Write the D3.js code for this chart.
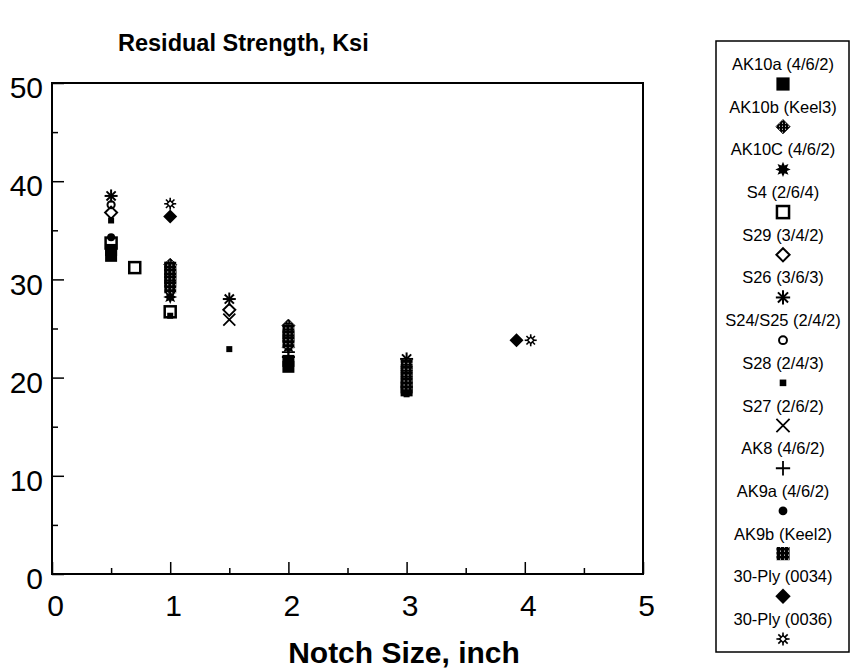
<!DOCTYPE html>
<html><head><meta charset="utf-8">
<script src="https://cdn.jsdelivr.net/npm/d3@7"></script>
<style>body{margin:0;background:#fff} svg{display:block;font-family:"Liberation Sans",Arial,Helvetica,sans-serif}</style>
</head><body>
<svg id="chart" width="859" height="672"></svg>
<script>
// ---- data ----
const xTicks = [0, 1, 2, 3, 4, 5];
const xMinorTicks = [0.5, 1.5, 2.5, 3.5, 4.5];
const yTicks = [0, 10, 20, 30, 40, 50];
const yMinorTicks = [5, 15, 25, 35, 45];

const seriesNames = ["AK10a (4/6/2)", "AK10b (Keel3)", "AK10C (4/6/2)", "S4 (2/6/4)", "S29 (3/4/2)",
  "S26 (3/6/3)", "S24/S25 (2/4/2)", "S28 (2/4/3)", "S27 (2/6/2)", "AK8 (4/6/2)", "AK9a (4/6/2)",
  "AK9b (Keel2)", "30-Ply (0034)", "30-Ply (0036)"];
const seriesSymbols = ["fsquare", "hdiamond", "star", "osquare", "odiamond", "asterisk", "ocircle",
  "ssquare", "xmark", "plus", "fcircle", "dsquare", "fdiamond", "snow"];

const ak10a  = [[0.5, 33.0], [0.5, 32.4], [1, 30.9], [1, 30.2], [2, 21.7], [2, 21.1], [3, 19.0], [3, 18.7]];
const ak10b  = [[1, 31.5], [2, 25.3]];
const ak10c  = [[1, 28.2], [2, 23.1]];
const s4     = [[0.5, 33.7], [0.7, 31.2], [1, 26.7]];
const s29    = [[0.5, 36.8], [1.5, 26.9]];
const s26    = [[0.5, 38.5], [1.5, 28.0], [3, 21.9]];
const s2425  = [[0.5, 37.6]];
const s28    = [[0.5, 36.0], [1, 26.3], [1.5, 22.9], [3, 18.3]];
const s27    = [[1.5, 25.9]];
const ak8    = [[2, 22.6], [2, 22.1]];
const ak9a   = [[0.5, 34.3]];
const ak9b   = [[1, 31.2], [1, 30.5], [1, 29.8], [1, 29.2], [2, 24.8], [2, 24.2], [2, 23.6], [3, 21.2], [3, 20.6], [3, 20.0], [3, 19.4]];
const ply34  = [[1, 36.4], [3.93, 23.8]];
const ply36  = [[1, 37.7], [4.05, 23.8]];

const seriesData = [ak10a, ak10b, ak10c, s4, s29, s26, s2425, s28, s27, ak8, ak9a, ak9b, ply34, ply36];

// ---- setup ----
const svg = d3.select("#chart");
const defs = svg.append("defs");
const dots = defs.append("pattern").attr("id", "dots").attr("patternUnits", "userSpaceOnUse").attr("width", 4).attr("height", 4);
dots.append("rect").attr("width", 4).attr("height", 4).attr("fill", "#000");
dots.append("rect").attr("x", 1).attr("y", 1).attr("width", 1).attr("height", 1).attr("fill", "#fff");
const chk = defs.append("pattern").attr("id", "chk").attr("patternUnits", "userSpaceOnUse").attr("width", 3).attr("height", 3);
chk.append("rect").attr("width", 3).attr("height", 3).attr("fill", "#000");
chk.append("rect").attr("x", 2).attr("y", 2).attr("width", 1).attr("height", 1).attr("fill", "#fff");

const x = d3.scaleLinear().domain([0, 5]).range([52, 643]);
const y = d3.scaleLinear().domain([0, 50]).range([574, 83]);

// title
svg.append("text").attr("x", 118).attr("y", 51).attr("font-size", 23.5).attr("font-weight", "bold").text("Residual Strength, Ksi");

// axes
const gx = svg.append("g").attr("transform", "translate(0,574)")
  .call(d3.axisBottom(x).tickValues(xTicks).tickFormat(d3.format("d")).tickSizeInner(-12).tickSizeOuter(0).tickPadding(21));
const gxm = svg.append("g").attr("transform", "translate(0,574)")
  .call(d3.axisBottom(x).tickValues(xMinorTicks).tickFormat("").tickSizeInner(-6).tickSizeOuter(0));
const gy = svg.append("g").attr("transform", "translate(52,0)")
  .call(d3.axisLeft(y).tickValues(yTicks).tickFormat(d3.format("d")).tickSizeInner(-12).tickSizeOuter(0).tickPadding(9));
const gym = svg.append("g").attr("transform", "translate(52,0)")
  .call(d3.axisLeft(y).tickValues(yMinorTicks).tickFormat("").tickSizeInner(-6).tickSizeOuter(0));
[gx, gxm, gy, gym].forEach(g => {
  g.select(".domain").remove();
  g.selectAll("line").attr("stroke", "#000").attr("stroke-width", 1.5);
  g.selectAll("text").attr("font-size", 30).attr("fill", "#000").attr("font-family", "Liberation Sans, Arial, sans-serif");
});
gx.selectAll("text").attr("dx", 3);
gy.selectAll("text").attr("dy", "0.49em");

svg.append("rect").attr("x", 52).attr("y", 83).attr("width", 591).attr("height", 491)
  .attr("fill", "none").attr("stroke", "#000").attr("stroke-width", 2);

svg.append("text").attr("x", 404).attr("y", 663).attr("text-anchor", "middle")
  .attr("font-size", 30).attr("font-weight", "bold").text("Notch Size, inch");

// ---- symbols ----
function drawSym(g, type, s) {
  const k = s;
  switch (type) {
    case "fsquare":
      g.append("rect").attr("x", -6 * k).attr("y", -6 * k).attr("width", 12 * k).attr("height", 12 * k).attr("fill", "#000");
      break;
    case "hdiamond": {
      const r = 6.5 * k;
      g.append("path").attr("d", `M0,${-r}L${r},0L0,${r}L${-r},0Z`).attr("fill", "url(#chk)").attr("stroke", "#000").attr("stroke-width", 0.8);
      break;
    }
    case "star": {
      const pts = [];
      for (let i = 0; i < 16; i++) {
        const a = Math.PI * i / 8;
        const r = (i % 2 === 0 ? 7 : 3.8) * k;
        pts.push([r * Math.sin(a), -r * Math.cos(a)]);
      }
      g.append("path").attr("d", "M" + pts.map(p => p.join(",")).join("L") + "Z").attr("fill", "#000");
      break;
    }
    case "osquare":
      g.append("rect").attr("x", -5.5 * k).attr("y", -5.5 * k).attr("width", 11 * k).attr("height", 11 * k)
        .attr("fill", "none").attr("stroke", "#000").attr("stroke-width", 2.5);
      break;
    case "odiamond": {
      const r = 6 * k;
      g.append("path").attr("d", `M0,${-r}L${r},0L0,${r}L${-r},0Z`).attr("fill", "none").attr("stroke", "#000").attr("stroke-width", 2);
      break;
    }
    case "asterisk": {
      const r = 6.5 * k;
      [0, 45, 90, 135].forEach(a => {
        const c = Math.cos(a * Math.PI / 180) * r, sn = Math.sin(a * Math.PI / 180) * r;
        g.append("line").attr("x1", -c).attr("y1", -sn).attr("x2", c).attr("y2", sn).attr("stroke", "#000").attr("stroke-width", 2);
      });
      break;
    }
    case "ocircle":
      g.append("circle").attr("r", 3.6 * k).attr("fill", "none").attr("stroke", "#000").attr("stroke-width", 2);
      break;
    case "ssquare":
      g.append("rect").attr("x", -3 * k).attr("y", -3 * k).attr("width", 6 * k).attr("height", 6 * k).attr("fill", "#000");
      break;
    case "xmark": {
      const r = 6 * k;
      g.append("path").attr("d", `M${-r},${-r}L${r},${r}M${r},${-r}L${-r},${r}`).attr("stroke", "#000").attr("stroke-width", 1.8);
      break;
    }
    case "plus": {
      const r = 6.5 * k;
      g.append("path").attr("d", `M${-r},0L${r},0M0,${-r}L0,${r}`).attr("stroke", "#000").attr("stroke-width", 1.8);
      break;
    }
    case "fcircle":
      g.append("circle").attr("r", 4 * k).attr("fill", "#000");
      break;
    case "dsquare":
      g.append("rect").attr("x", -6 * k).attr("y", -6 * k).attr("width", 12 * k).attr("height", 12 * k).attr("fill", "url(#dots)");
      break;
    case "fdiamond": {
      const r = 7 * k;
      g.append("path").attr("d", `M0,${-r}L${r},0L0,${r}L${-r},0Z`).attr("fill", "#000");
      break;
    }
    case "snow": {
      const r = 6 * k;
      [0, 45, 90, 135].forEach(a => {
        const c = Math.cos(a * Math.PI / 180) * r, sn = Math.sin(a * Math.PI / 180) * r;
        g.append("line").attr("x1", -c).attr("y1", -sn).attr("x2", c).attr("y2", sn).attr("stroke", "#000").attr("stroke-width", 1.6);
      });
      const d = 3.2 * k;
      g.append("path").attr("d", `M0,${-d}L${d},0L0,${d}L${-d},0Z`).attr("fill", "#fff").attr("stroke", "#000").attr("stroke-width", 1.5);
      break;
    }
  }
}

// ---- points ----
const plot = svg.append("g");
seriesData.forEach((pts, i) => {
  plot.selectAll(null).data(pts).enter().append("g")
    .attr("transform", d => `translate(${x(d[0])},${y(d[1])})`)
    .each(function () { drawSym(d3.select(this), seriesSymbols[i], 1); });
});

// ---- legend ----
svg.append("rect").attr("x", 716).attr("y", 41).attr("width", 133).attr("height", 611)
  .attr("fill", "none").attr("stroke", "#000").attr("stroke-width", 1.5);
const legY = d3.scaleLinear().domain([0, seriesNames.length - 1]).range([64, 619]);
const leg = svg.append("g").selectAll("g").data(seriesNames).enter().append("g")
  .attr("transform", (d, i) => `translate(783,${legY(i)})`);
leg.append("text").attr("text-anchor", "middle").attr("dominant-baseline", "central")
  .attr("font-size", 16.5).text(d => d);
leg.each(function (d, i) {
  const g = d3.select(this).append("g").attr("transform", "translate(0,20)");
  drawSym(g, seriesSymbols[i], 1.1);
});
</script>
</body></html>
